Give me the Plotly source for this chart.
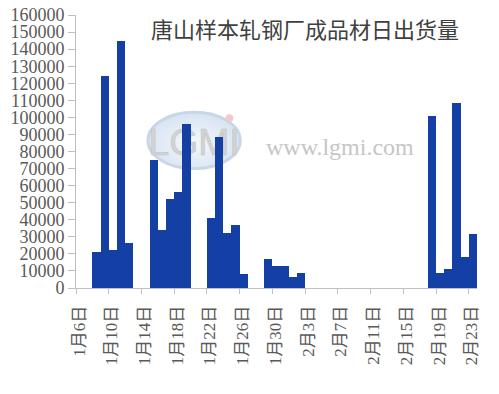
import plotly.graph_objects as go

# ---- data ----
dates = ["2018-01-08", "2018-01-09", "2018-01-10", "2018-01-11", "2018-01-12",
         "2018-01-15", "2018-01-16", "2018-01-17", "2018-01-18", "2018-01-19",
         "2018-01-22", "2018-01-23", "2018-01-24", "2018-01-25", "2018-01-26",
         "2018-01-29", "2018-01-30", "2018-01-31", "2018-02-01", "2018-02-02",
         "2018-02-18", "2018-02-19", "2018-02-20", "2018-02-21", "2018-02-22", "2018-02-23"]
shipments = [21000, 124500, 22000, 144500, 26500,
             75000, 34000, 52000, 56000, 96000,
             41000, 88500, 32000, 37000, 8200,
             17000, 13000, 13000, 6300, 8800,
             101000, 8800, 11300, 108500, 18300, 31800]
tick_dates = ["2018-01-06", "2018-01-10", "2018-01-14", "2018-01-18", "2018-01-22",
              "2018-01-26", "2018-01-30", "2018-02-03", "2018-02-07", "2018-02-11",
              "2018-02-15", "2018-02-19", "2018-02-23"]
tick_labels = ["1月6日", "1月10日", "1月14日", "1月18日", "1月22日", "1月26日", "1月30日",
               "2月3日", "2月7日", "2月11日", "2月15日", "2月19日", "2月23日"]
y_ticks = list(range(0, 160001, 10000))
title_text = "唐山样本轧钢厂成品材日出货量"

BAR = "#1440a6"
AXIS = "#bfbfbf"
TXT = "#595959"
FONT = "Liberation Serif, Noto Sans CJK SC, serif"

fig = go.Figure(go.Bar(
    x=dates, y=shipments,
    xperiod=86400000, xperiodalignment="middle",
    marker=dict(color=BAR, line=dict(width=0)),
))

logo_svg = (
    "data:image/svg+xml;utf8,"
    "<svg xmlns='http://www.w3.org/2000/svg' width='100' height='66' viewBox='0 0 100 66'>"
    "<defs><radialGradient id='g' cx='50%' cy='55%' r='55%'>"
    "<stop offset='0%' stop-color='%23f4f7fb'/><stop offset='100%' stop-color='%23d3e1f1'/>"
    "</radialGradient></defs>"
    "<ellipse cx='50' cy='35' rx='47' ry='29' fill='url(%23g)' stroke='%23c3d3e6' stroke-width='3'/>"
    "<text x='50' y='50' text-anchor='middle' font-family='Liberation Sans, sans-serif' "
    "font-size='38' fill='%23cfcfcf' stroke='%23bdbdbd' stroke-width='0.6'>LGMI</text>"
    "<circle cx='86' cy='12' r='4' fill='%23f2c4c4'/>"
    "</svg>"
)

fig.update_layout(
    width=491, height=386,
    margin=dict(l=68, r=22, t=7, b=106),
    paper_bgcolor="white", plot_bgcolor="white",
    bargap=0, showlegend=False,
    font=dict(family=FONT, color=TXT),
    title=dict(text=title_text, x=0.605, xanchor="center", xref="container",
               y=0.943, yanchor="middle", yref="container",
               font=dict(family="Noto Sans CJK SC, sans-serif", size=22, color="#404040")),
    xaxis=dict(
        type="date", range=["2018-01-06", "2018-02-24"], automargin=False,
        tickvals=tick_dates, ticktext=tick_labels, tickangle=-90,
        ticks="outside", ticklen=5, tickcolor=AXIS,
        showline=True, linecolor=AXIS, linewidth=1,
        showgrid=False, zeroline=False,
        tickfont=dict(family=FONT, size=17, color=TXT),
        ticklabelshift=3, ticklabelstandoff=5, ticklabeloverflow="allow",
    ),
    yaxis=dict(
        range=[0, 160000], tickvals=y_ticks, ticktext=[str(v) for v in y_ticks],
        automargin=False,
        ticks="outside", ticklen=7, tickcolor=AXIS,
        showline=True, linecolor=AXIS, linewidth=1,
        showgrid=False, zeroline=False,
        tickfont=dict(family=FONT, size=18, color=TXT),
        ticklabeloverflow="allow",
    ),
    images=[dict(source=logo_svg, xref="paper", yref="paper",
                 x=0.172, y=0.665, sizex=0.245, sizey=0.235,
                 xanchor="left", yanchor="top", sizing="stretch",
                 layer="below", opacity=0.9)],
    annotations=[dict(text="www.lgmi.com", xref="paper", yref="paper",
                      x=0.658, y=0.516, showarrow=False,
                      font=dict(family="Liberation Serif, serif", size=24, color="#c6c6c6"))],
)

fig.write_html("out.html")
